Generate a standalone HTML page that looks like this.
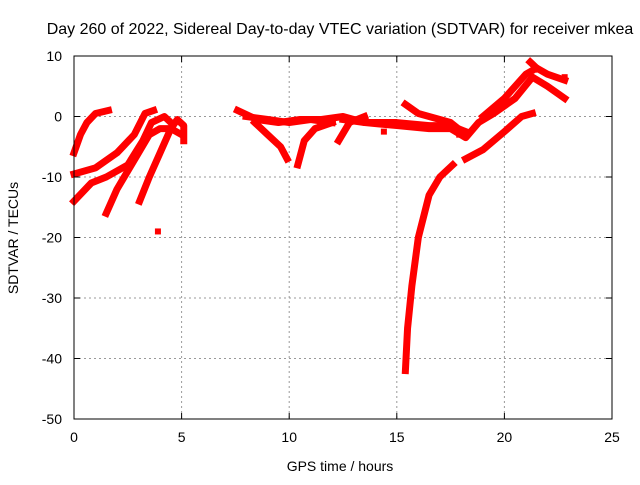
<!DOCTYPE html>
<html><head><meta charset="utf-8"><style>
body{margin:0;background:#fff}
text{font-family:"Liberation Sans",sans-serif;font-size:14px;fill:#000}
</style></head><body>
<svg id="chart" width="640" height="480" xmlns="http://www.w3.org/2000/svg">
<rect width="640" height="480" fill="#fff"/>
<text x="340" y="34" text-anchor="middle" style="font-size:16px">Day 260 of 2022, Sidereal Day-to-day VTEC variation (SDTVAR) for receiver mkea</text>
<g id="grid"></g>
<g id="series"></g>
<rect x="74" y="56" width="538" height="363" fill="none" stroke="#000" stroke-width="1"/>
<g id="ticks"></g>
<text x="340" y="471" text-anchor="middle">GPS time / hours</text>
<text x="18" y="238" text-anchor="middle" transform="rotate(-90 18 238)">SDTVAR / TECUs</text>
</svg>
<script>
const xTicks=[0,5,10,15,20,25];
const yTicks=[10,0,-10,-20,-30,-40,-50];
const tracksH=[
[0,0.3,0.6,1,1.6],
[0,1,2,2.8,3.3,3.7],
[0,0.8,1.5,2.5,3.2,3.6,4.2,4.5],
[1.5,2,2.5,3,3.5,4,4.5,5],
[3.05,3.5,4,4.5,4.8,5.1,5.1],
[7.6,8.5,9.5,10.5,11.5,12.5,13.5,15,16.5,17.5,18.2,18.8,19.5,20.5,21.3,22,22.8],
[8.4,9,9.6,9.9],
[10.4,10.7,11.2,12],
[12.3,12.8,13.5],
[15.4,16,17.5,18.2],
[19,20,21,21.5,22,22.8],
[21.2,21.5],
[18.2,19,20,20.8,21.3],
[15.4,15.5,15.7,16,16.5,17,17.6],
[12.5,13.5,15,16.5,17.5,18.2],
[8,9,10,11,12]
];
const tracksV=[
[-6,-3,-1,0.5,1],
[-9.5,-8.5,-6,-3,0.5,1],
[-14,-11,-10,-8,-4,-1,0,-1],
[-16,-12,-9,-6,-3,-2,-2,-3],
[-14,-10,-6,-2,-0.5,-1.5,-4],
[1,-0.5,-1,-0.5,-0.5,0,-1,-1.5,-2,-2,-3.5,-1,0.5,3,6.5,5,3],
[-1,-3,-5,-7],
[-8,-4,-2,-1],
[-4,-1,0],
[2,0.5,-1,-3],
[0,3,7,8,7,6],
[9,8],
[-7,-5.5,-2.5,0,0.5],
[-42,-35,-28,-20,-13,-10,-8],
[-0.5,-1,-1,-1.5,-1.5,-2.5],
[0,-0.5,-1,-0.5,-1]
];
const pointsH=[3.9,14.4,17.9,22.8];
const pointsV=[-19,-2.5,-3,6.5];
const X=h=>74+h*538/25;
const Y=v=>56+(10-v)*363/60;
const NS="http://www.w3.org/2000/svg";
const grid=document.getElementById('grid'),ticks=document.getElementById('ticks'),ser=document.getElementById('series');
function mk(tag,attrs,parent){const e=document.createElementNS(NS,tag);for(const k in attrs)e.setAttribute(k,attrs[k]);parent.appendChild(e);return e;}
xTicks.forEach(t=>{
 if(t>0&&t<25){const l=mk('line',{x1:X(t),x2:X(t),y1:56,y2:419,stroke:'#999','stroke-dasharray':'2,3'},grid);
 
 }
 mk('line',{x1:X(t),x2:X(t),y1:419,y2:413,stroke:'#000'},ticks);
 mk('line',{x1:X(t),x2:X(t),y1:56,y2:62,stroke:'#000'},ticks);
 const tx=mk('text',{x:X(t),y:442,'text-anchor':'middle'},ticks);tx.textContent=t;
 
 
});
yTicks.forEach(t=>{
 if(t>-50&&t<10){const l=mk('line',{x1:74,x2:612,y1:Y(t),y2:Y(t),stroke:'#999','stroke-dasharray':'2,3'},grid);
 
 }
 mk('line',{x1:74,x2:80,y1:Y(t),y2:Y(t),stroke:'#000'},ticks);
 mk('line',{x1:612,x2:606,y1:Y(t),y2:Y(t),stroke:'#000'},ticks);
 const tx=mk('text',{x:62,y:Y(t)+5,'text-anchor':'end'},ticks);tx.textContent=t;
 
 
});
tracksH.forEach((hs,i)=>{
 const pts=hs.map((h,j)=>X(h)+','+Y(tracksV[i][j])).join(' ');
 const p=mk('polyline',{points:pts,fill:'none',stroke:'#f00','stroke-width':7,'stroke-linejoin':'round','stroke-linecap':'square'},ser);
 
 
});
pointsH.forEach((h,i)=>{
 const r=mk('rect',{x:X(h)-3,y:Y(pointsV[i])-3,width:6,height:6,fill:'#f00'},ser);
 
 
});
</script>
</body></html>
